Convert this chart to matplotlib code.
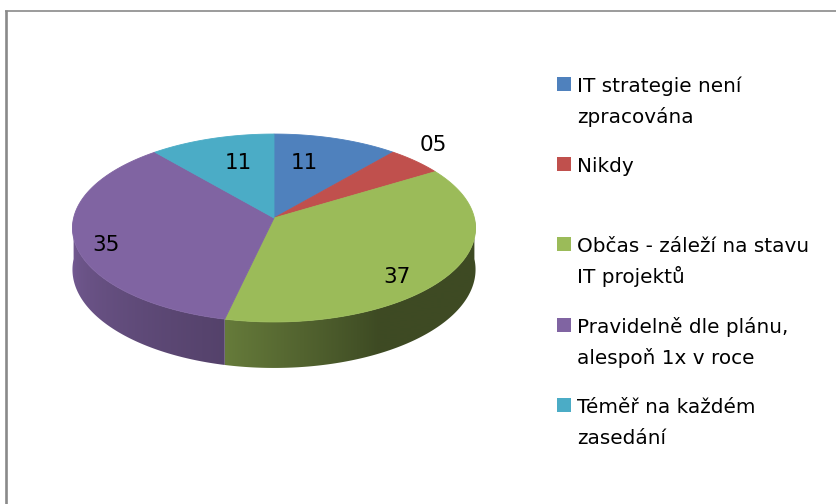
import textwrap
import numpy as np
import matplotlib
matplotlib.use("Agg")
import matplotlib.pyplot as plt
from matplotlib.patches import Polygon, Rectangle
from matplotlib.colors import to_rgb

# ---------------- data ----------------
categories = [
    "IT strategie není zpracována",
    "Nikdy",
    "Občas - záleží na stavu IT projektů",
    "Pravidelně dle plánu, alespoň 1x v roce",
    "Téměř na každém zasedání",
]
values = [11, 5, 37, 35, 11]
colors = ["#4F81BD", "#C0504D", "#9BBB59", "#8064A2", "#4BACC6"]

plt.rcParams["font.family"] = ["DejaVu Sans"]

W, Hpx = 836, 504
fig = plt.figure(figsize=(W / 100, Hpx / 100), dpi=100)
ax = fig.add_axes([0, 0, 1, 1])
ax.set_xlim(0, W)
ax.set_ylim(Hpx, 0)
ax.axis("off")

# ---------------- 3D pie projection (pixel space) ----------------
CX, RX = 274.0, 200.4
K, A, B = 0.1064, 69.7, 218.0
DEPTH = 41.1


def proj(theta_deg, r=1.0, z=0.0):
    t = np.radians(theta_deg)
    x = r * np.sin(t)
    d = -r * np.cos(t)
    w = 1 - K * d
    return CX + RX * x / w, (A * d + B) / w + z / w


total = float(sum(values))
angles = np.array(values) / total * 360.0
starts = np.concatenate([[0.0], np.cumsum(angles)[:-1]])
ends = starts + angles


def shade(theta):
    return np.interp(theta, [90, 152, 193, 270], [0.40, 0.40, 0.66, 0.92])


# map screen x -> angle on the front rim (for wall gradient)
th_front = np.linspace(90, 270, 721)
x_front = np.array([proj(t)[0] for t in th_front])
order = np.argsort(x_front)
gx = np.linspace(60, 490, 861)
g_theta = np.interp(gx, x_front[order], th_front[order])

# side walls (front half), gradient clipped to wall shape
for a, b, c in zip(starts, ends, colors):
    lo, hi = max(a, 90.0), min(b, 270.0)
    if lo >= hi:
        continue
    ts = np.linspace(lo, hi, int((hi - lo) / 0.5) + 2)
    top = [proj(t) for t in ts]
    bot = [proj(t, z=DEPTH) for t in ts[::-1]]
    wall = Polygon(top + bot, closed=True, facecolor="none", edgecolor="none")
    ax.add_patch(wall)
    base = np.array(to_rgb(c))
    img = np.clip(base[None, None, :] * shade(g_theta)[None, :, None], 0, 1)
    img = np.repeat(img, 2, axis=0)
    im = ax.imshow(img, extent=(gx[0], gx[-1], 400, 100), aspect="auto",
                   interpolation="bilinear", zorder=1)
    im.set_clip_path(wall)

# top faces
apex = proj(0.0, r=0.0)
for a, b, c in zip(starts, ends, colors):
    ts = np.linspace(a, b, max(int((b - a) / 0.5), 2) + 1)
    pts = [apex] + [proj(t) for t in ts]
    ax.add_patch(Polygon(pts, closed=True, facecolor=c, edgecolor=c,
                         linewidth=0.6, zorder=2))

# data labels
label_r = [0.65, 1.22, 0.83, 0.86, 0.66]
label_shift = [-5.4, -3.8, 10.5, -5.6, 3.5]
for a, b, v, r, s in zip(starts, ends, values, label_r, label_shift):
    X, Y = proj(0.5 * (a + b) + s, r=r)
    ax.text(X, Y, f"{v:02d}", ha="center", va="center", fontsize=15.5,
            color="black", zorder=3)

# ---------------- legend ----------------
LX, LY0, STEP, LINE = 577, 92, 80.2, 31
for i, (cat, c) in enumerate(zip(categories, colors)):
    y = LY0 + STEP * i
    ax.add_patch(Rectangle((557, y - 15), 14, 14, facecolor=c,
                           edgecolor="none"))
    for j, line in enumerate(textwrap.wrap(cat, 23)):
        ax.text(LX, y + j * LINE, line, ha="left", va="baseline",
                fontsize=14.4, color="black")

# ---------------- frame ----------------
ax.plot([5, W], [10.5, 10.5], color="#808080", lw=1.1, solid_capstyle="butt")
ax.plot([6, 6], [10, Hpx], color="#8a8a8a", lw=1.9, solid_capstyle="butt")

ax.set_xlim(0, W)
ax.set_ylim(Hpx, 0)
fig.savefig("out.png", dpi=100, facecolor="white")
